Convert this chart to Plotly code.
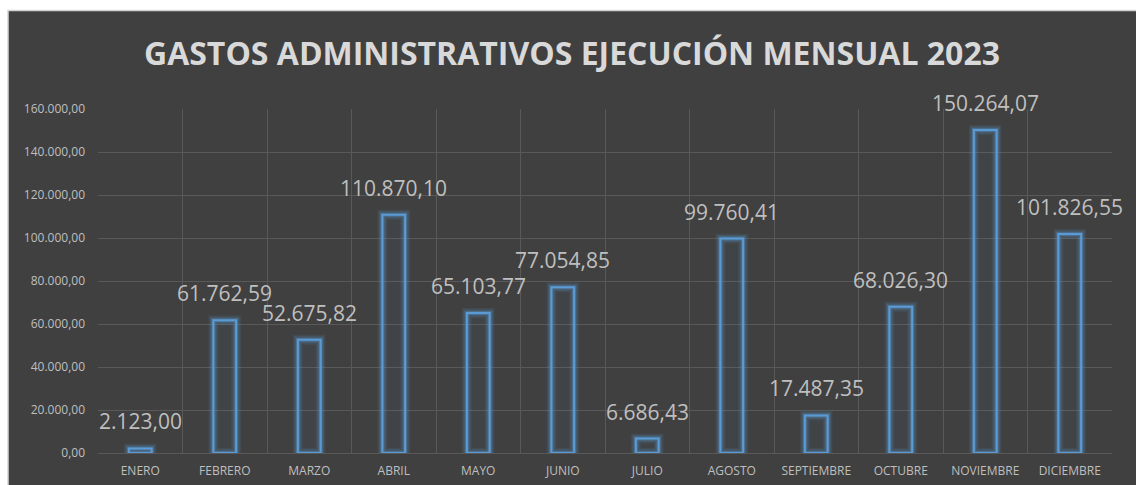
import plotly.graph_objects as go

# Gastos administrativos 2023 (valores de la gráfica)
meses = ['ENERO', 'FEBRERO', 'MARZO', 'ABRIL', 'MAYO', 'JUNIO', 'JULIO',
         'AGOSTO', 'SEPTIEMBRE', 'OCTUBRE', 'NOVIEMBRE', 'DICIEMBRE']
gastos = [2123.00, 61762.59, 52675.82, 110870.10, 65103.77, 77054.85, 6686.43,
          99760.41, 17487.35, 68026.30, 150264.07, 101826.55]
y_ticks = [0, 20000, 40000, 60000, 80000, 100000, 120000, 140000, 160000]

titulo = 'GASTOS ADMINISTRATIVOS EJECUCIÓN MENSUAL 2023'


def fmt_es(v):
    """1234.5 -> '1.234,50'"""
    return f"{v:,.2f}".replace(',', 'X').replace('.', ',').replace('X', '.')


BG = '#404040'
GRID = '#595959'
AZUL = '#5b9bd5'
TXT = '#bfbfbf'
FONT = 'Open Sans'

# pixel layout of the plot area
W, H = 1136, 485
L, R, T, B = 98, 24, 109, 32
pw, ph = W - L - R, H - T - B

fig = go.Figure()

# glow around the bars
for lw, alpha in [(10, 0.10), (7, 0.18), (4, 0.32)]:
    fig.add_trace(go.Bar(
        x=meses, y=gastos, width=0.27,
        marker=dict(color='rgba(0,0,0,0)',
                    line=dict(color=f'rgba(91,155,213,{alpha})', width=lw)),
        hoverinfo='skip', showlegend=False,
    ))

fig.add_trace(go.Bar(
    x=meses, y=gastos, width=0.27,
    marker=dict(color='rgba(91,155,213,0.05)', line=dict(color=AZUL, width=2)),
    showlegend=False,
    hovertemplate='%{x}: %{customdata}<extra></extra>',
    customdata=[fmt_es(v) for v in gastos],
))

for m, v in zip(meses, gastos):
    fig.add_annotation(
        x=m, y=v, text=fmt_es(v), showarrow=False,
        yanchor='bottom', yshift=11,
        font=dict(family=FONT, size=21, color=TXT),
    )

# dark chart area with a thin light border (white strip left/top)
fig.add_shape(
    type='rect', xref='paper', yref='paper', layer='below',
    x0=(8 - L) / pw, x1=(W + 10 - L) / pw,
    y0=-(B + 10) / ph, y1=(ph + T - 10.5) / ph,
    fillcolor=BG, line=dict(color='#d4d4d4', width=1.5),
)

fig.update_layout(
    width=W, height=H,
    margin=dict(l=L, r=R, t=T, b=B),
    paper_bgcolor='white',
    plot_bgcolor='rgba(0,0,0,0)',
    barmode='overlay',
    separators=',.',
    title=dict(text=f'<b>{titulo}</b>', x=572 / W,
               xanchor='center', y=1 - 54 / H, yanchor='middle',
               font=dict(family=FONT, size=32, color='#d9d9d9')),
    xaxis=dict(
        tickson='boundaries', showgrid=True, gridcolor=GRID, gridwidth=1,
        ticks='', showline=False, range=[-0.5, 11.5], ticklabelstandoff=9,
        automargin=False,
        tickfont=dict(family=FONT, size=12, color=TXT),
    ),
    yaxis=dict(
        range=[0, 160000], tickvals=y_ticks, tickformat=',.2f',
        showgrid=True, gridcolor=GRID, gridwidth=1,
        zeroline=True, zerolinecolor=GRID, zerolinewidth=1,
        ticks='', showline=False, ticklabelstandoff=12, automargin=False,
        tickfont=dict(family=FONT, size=12, color=TXT),
    ),
)

fig.write_html('out.html', config={'displayModeBar': False},
               post_script="document.body.style.margin='0';")
